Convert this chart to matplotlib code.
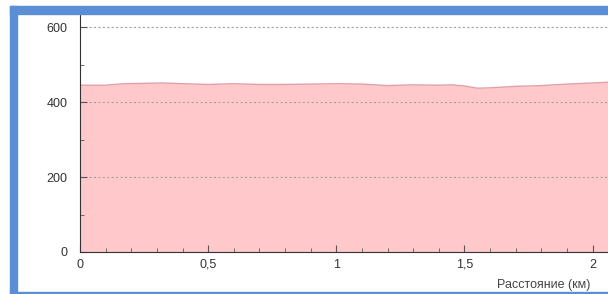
import matplotlib.pyplot as plt
from matplotlib.patches import Rectangle
from matplotlib.ticker import MultipleLocator, FuncFormatter

plt.rcParams['font.family'] = ['Liberation Sans', 'DejaVu Sans']

# distance (km) and elevation (m)
dist = [0.0, 0.1, 0.17, 0.25, 0.32, 0.4, 0.5, 0.6, 0.7, 0.8, 0.9, 1.0,
        1.1, 1.2, 1.3, 1.4, 1.45, 1.5, 1.55, 1.6, 1.7, 1.8, 1.9, 2.0, 2.06]
elev = [445, 445, 449, 450, 451, 449, 447, 449, 447, 447, 448, 449,
        448, 444, 446, 445, 446, 443, 437, 438, 442, 444, 448, 451, 453]

fig = plt.figure(figsize=(6.08, 2.94), dpi=100)
ax = fig.add_axes([80 / 608, 42 / 294, 1 - 80 / 608, 238 / 294])

ax.fill_between(dist, elev, 0, color='#ffc9cb', lw=0, zorder=1)
ax.plot(dist, elev, color='#e0a0a8', lw=1, zorder=2)

ax.set_xlim(0, 2.06)
ax.set_ylim(0, 635)
ax.xaxis.set_major_locator(MultipleLocator(0.5))
ax.xaxis.set_minor_locator(MultipleLocator(0.1))
ax.yaxis.set_major_locator(MultipleLocator(200))
ax.yaxis.set_minor_locator(MultipleLocator(100))
ax.xaxis.set_major_formatter(FuncFormatter(lambda v, p: f'{v:g}'.replace('.', ',')))

ax.grid(axis='y', which='major', color='#a8a0a0', ls=(0, (2, 2)), lw=0.8, zorder=3)
ax.set_axisbelow(False)
for s in ['top', 'right']:
    ax.spines[s].set_visible(False)
for s in ['left', 'bottom']:
    ax.spines[s].set_color('#333333')
    ax.spines[s].set_linewidth(0.8)
    ax.spines[s].set_zorder(4)

ax.tick_params(which='both', direction='in', colors='#555555', labelcolor='#333333',
               labelsize=9)
ax.tick_params(which='major', length=5, width=0.8)
ax.tick_params(which='minor', length=3, width=0.6)
ax.tick_params(axis='y', pad=9)
ax.tick_params(axis='x', pad=5)

fig.text(590 / 608, 1 - 285 / 294, 'Расстояние (км)', ha='right', va='center',
         fontsize=9, color='#444444')

# blue frame around the window
blue = '#5a8fd6'
fig.patches.append(Rectangle((10 / 608, 0), 7 / 608, 288 / 294, transform=fig.transFigure,
                             color=blue, zorder=10))
fig.patches.append(Rectangle((10 / 608, 280 / 294), 598 / 608, 8 / 294,
                             transform=fig.transFigure, color=blue, zorder=10))
fig.patches.append(Rectangle((10 / 608, 0), 598 / 608, 2 / 294, transform=fig.transFigure,
                             color=blue, zorder=10))

fig.savefig('out.png', dpi=100)
